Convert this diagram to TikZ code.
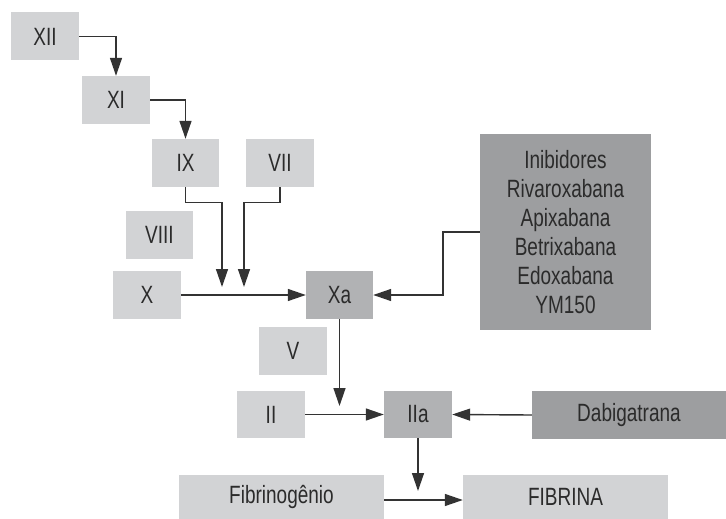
\documentclass[tikz,border=0pt]{standalone}
\usepackage{fontspec}
\setmainfont{Liberation Sans}[FakeStretch=0.76]
\usetikzlibrary{arrows.meta}
\definecolor{lightbox}{HTML}{D2D3D5}
\definecolor{midbox}{HTML}{B1B2B4}
\definecolor{darkbox}{HTML}{9D9EA0}
\definecolor{ink}{HTML}{2B2B2B}
\definecolor{wire}{HTML}{333333}
\begin{document}
\begin{tikzpicture}[x=1pt,y=-1pt,
  box/.style={fill=lightbox,draw=none,inner sep=0pt,text=ink,
    font=\fontsize{25}{29}\selectfont,minimum width=68pt,minimum height=48pt,align=center},
  midb/.style={box,fill=midbox},
  darkb/.style={box,fill=darkbox},
  conn/.style={draw=wire,line width=1.4pt,-{Triangle[length=18pt,width=12pt]}}]
\useasboundingbox (0,0) rectangle (726,519);
\node[box] (XII) at (45,36.5) {XII};
\node[box] (XI) at (116,100) {XI};
\node[box,minimum width=67pt] (IX) at (185.5,163) {IX};
\node[box] (VII) at (280,163) {VII};
\node[box,minimum width=67pt] (VIII) at (159.5,235) {VIII};
\node[box] (X) at (147,295) {X};
\node[midb,minimum width=67pt] (Xa) at (339.5,295) {Xa};
\node[darkb,minimum width=171pt,minimum height=196pt] (Inib) at (565.5,232)
  {Inibidores\\Rivaroxabana\\Apixabana\\Betrixabana\\Edoxabana\\YM150};
\node[box] (V) at (293,351) {V};
\node[box,minimum height=47pt] (II) at (271,414.5) {II};
\node[midb,minimum height=47pt] (IIa) at (418,414.5) {IIa};
\node[darkb,minimum width=194pt] (Dabi) at (629,415) {Dabigatrana};
\node[box,minimum width=205pt,minimum height=44pt] (Fib) at (281.5,497) {Fibrinogênio};
\node[box,minimum width=205pt,minimum height=44pt] (FIB) at (565.5,497) {FIBRINA};
\coordinate (t1) at (222,287);
\coordinate (t2) at (244,287);
\coordinate (t3) at (339.5,406);
\coordinate (t4) at (418,491);
\draw[conn] (XII.east) -| (XI.north);
\draw[conn] (XI.east) -| (IX.north);
\draw[conn] (IX.south) -- ++(0,15) -| (t1);
\draw[conn] (VII.south) -- ++(0,15) -| (t2);
\draw[conn] (X.east) -- (Xa.west);
\draw[conn] (Inib.west) -- ++(-37,0) |- (Xa.east);
\draw[conn] (Xa.south) -- (t3);
\draw[conn] (II.east) -- (IIa.west);
\draw[conn] (Dabi.west) -- (IIa.east);
\draw[conn] (IIa.south) -- (t4);
\draw[conn] ([yshift=-3pt]Fib.east) -- ([yshift=-3pt]FIB.west);
\end{tikzpicture}
\end{document}
